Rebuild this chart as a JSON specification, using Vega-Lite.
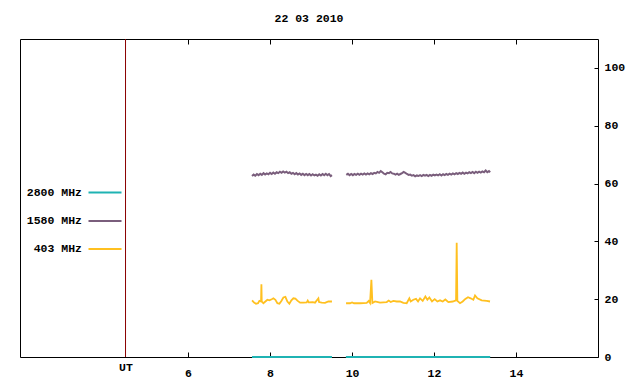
{
  "$schema": "https://vega.github.io/schema/vega-lite/v6.json",
  "width": 578,
  "height": 318,
  "autosize": {"type": "none"},
  "padding": {"left": 20, "top": 39, "right": 42, "bottom": 27},
  "background": "white",
  "title": {"text": "22 03 2010", "font": "Liberation Mono", "fontSize": 11.5, "fontWeight": "bold", "anchor": "middle", "baseline": "alphabetic", "offset": 5, "color": "black"},
  "config": {
    "view": {"stroke": "black", "strokeWidth": 1},
    "axis": {"grid": false, "domain": false, "labelFont": "Liberation Mono", "labelFontSize": 11.5, "labelFontWeight": "bold", "labelColor": "black", "tickColor": "black", "title": null},
    "legend": {"labelFont": "Liberation Mono", "labelFontSize": 11.5, "labelFontWeight": "bold", "labelColor": "black"}
  },
  "datasets": {
    "flux": [
      {"s": "2800 MHz", "g": 1, "t": 7.56, "v": 0},
      {"s": "2800 MHz", "g": 1, "t": 9.51, "v": 0},
      {"s": "2800 MHz", "g": 2, "t": 9.85, "v": 0},
      {"s": "2800 MHz", "g": 2, "t": 13.37, "v": 0},
      {"s": "1580 MHz", "g": 1, "t": 7.56, "v": 62.6},
      {"s": "1580 MHz", "g": 1, "t": 7.60, "v": 63.1},
      {"s": "1580 MHz", "g": 1, "t": 7.64, "v": 62.7},
      {"s": "1580 MHz", "g": 1, "t": 7.68, "v": 63.3},
      {"s": "1580 MHz", "g": 1, "t": 7.72, "v": 62.9},
      {"s": "1580 MHz", "g": 1, "t": 7.76, "v": 63.4},
      {"s": "1580 MHz", "g": 1, "t": 7.80, "v": 63.0},
      {"s": "1580 MHz", "g": 1, "t": 7.84, "v": 63.6},
      {"s": "1580 MHz", "g": 1, "t": 7.88, "v": 63.1},
      {"s": "1580 MHz", "g": 1, "t": 7.92, "v": 63.5},
      {"s": "1580 MHz", "g": 1, "t": 7.96, "v": 63.2},
      {"s": "1580 MHz", "g": 1, "t": 8.00, "v": 63.7},
      {"s": "1580 MHz", "g": 1, "t": 8.04, "v": 63.3},
      {"s": "1580 MHz", "g": 1, "t": 8.08, "v": 63.8},
      {"s": "1580 MHz", "g": 1, "t": 8.12, "v": 63.4},
      {"s": "1580 MHz", "g": 1, "t": 8.16, "v": 63.9},
      {"s": "1580 MHz", "g": 1, "t": 8.20, "v": 63.6},
      {"s": "1580 MHz", "g": 1, "t": 8.24, "v": 64.1},
      {"s": "1580 MHz", "g": 1, "t": 8.28, "v": 63.7},
      {"s": "1580 MHz", "g": 1, "t": 8.32, "v": 64.2},
      {"s": "1580 MHz", "g": 1, "t": 8.36, "v": 63.8},
      {"s": "1580 MHz", "g": 1, "t": 8.40, "v": 64.1},
      {"s": "1580 MHz", "g": 1, "t": 8.44, "v": 63.6},
      {"s": "1580 MHz", "g": 1, "t": 8.48, "v": 63.9},
      {"s": "1580 MHz", "g": 1, "t": 8.52, "v": 63.4},
      {"s": "1580 MHz", "g": 1, "t": 8.56, "v": 63.7},
      {"s": "1580 MHz", "g": 1, "t": 8.60, "v": 63.2},
      {"s": "1580 MHz", "g": 1, "t": 8.64, "v": 63.6},
      {"s": "1580 MHz", "g": 1, "t": 8.68, "v": 63.1},
      {"s": "1580 MHz", "g": 1, "t": 8.72, "v": 63.5},
      {"s": "1580 MHz", "g": 1, "t": 8.76, "v": 63.0},
      {"s": "1580 MHz", "g": 1, "t": 8.80, "v": 63.4},
      {"s": "1580 MHz", "g": 1, "t": 8.84, "v": 62.9},
      {"s": "1580 MHz", "g": 1, "t": 8.88, "v": 63.3},
      {"s": "1580 MHz", "g": 1, "t": 8.92, "v": 62.9},
      {"s": "1580 MHz", "g": 1, "t": 8.96, "v": 63.3},
      {"s": "1580 MHz", "g": 1, "t": 9.00, "v": 62.8},
      {"s": "1580 MHz", "g": 1, "t": 9.04, "v": 63.2},
      {"s": "1580 MHz", "g": 1, "t": 9.08, "v": 62.8},
      {"s": "1580 MHz", "g": 1, "t": 9.12, "v": 63.1},
      {"s": "1580 MHz", "g": 1, "t": 9.16, "v": 62.7},
      {"s": "1580 MHz", "g": 1, "t": 9.20, "v": 63.2},
      {"s": "1580 MHz", "g": 1, "t": 9.24, "v": 62.8},
      {"s": "1580 MHz", "g": 1, "t": 9.28, "v": 63.3},
      {"s": "1580 MHz", "g": 1, "t": 9.32, "v": 62.9},
      {"s": "1580 MHz", "g": 1, "t": 9.36, "v": 63.4},
      {"s": "1580 MHz", "g": 1, "t": 9.40, "v": 62.9},
      {"s": "1580 MHz", "g": 1, "t": 9.44, "v": 63.3},
      {"s": "1580 MHz", "g": 1, "t": 9.48, "v": 62.6},
      {"s": "1580 MHz", "g": 1, "t": 9.51, "v": 62.9},
      {"s": "1580 MHz", "g": 2, "t": 9.86, "v": 63.0},
      {"s": "1580 MHz", "g": 2, "t": 9.90, "v": 63.4},
      {"s": "1580 MHz", "g": 2, "t": 9.94, "v": 62.9},
      {"s": "1580 MHz", "g": 2, "t": 9.98, "v": 63.3},
      {"s": "1580 MHz", "g": 2, "t": 10.02, "v": 62.9},
      {"s": "1580 MHz", "g": 2, "t": 10.06, "v": 63.3},
      {"s": "1580 MHz", "g": 2, "t": 10.10, "v": 63.0},
      {"s": "1580 MHz", "g": 2, "t": 10.14, "v": 63.4},
      {"s": "1580 MHz", "g": 2, "t": 10.18, "v": 63.0},
      {"s": "1580 MHz", "g": 2, "t": 10.22, "v": 63.4},
      {"s": "1580 MHz", "g": 2, "t": 10.26, "v": 63.1},
      {"s": "1580 MHz", "g": 2, "t": 10.30, "v": 63.5},
      {"s": "1580 MHz", "g": 2, "t": 10.34, "v": 63.1},
      {"s": "1580 MHz", "g": 2, "t": 10.38, "v": 63.5},
      {"s": "1580 MHz", "g": 2, "t": 10.42, "v": 63.2},
      {"s": "1580 MHz", "g": 2, "t": 10.46, "v": 63.6},
      {"s": "1580 MHz", "g": 2, "t": 10.50, "v": 63.3},
      {"s": "1580 MHz", "g": 2, "t": 10.54, "v": 63.7},
      {"s": "1580 MHz", "g": 2, "t": 10.58, "v": 63.5},
      {"s": "1580 MHz", "g": 2, "t": 10.62, "v": 64.0},
      {"s": "1580 MHz", "g": 2, "t": 10.66, "v": 63.7},
      {"s": "1580 MHz", "g": 2, "t": 10.70, "v": 64.3},
      {"s": "1580 MHz", "g": 2, "t": 10.74, "v": 63.9},
      {"s": "1580 MHz", "g": 2, "t": 10.78, "v": 63.4},
      {"s": "1580 MHz", "g": 2, "t": 10.82, "v": 63.2},
      {"s": "1580 MHz", "g": 2, "t": 10.86, "v": 63.7},
      {"s": "1580 MHz", "g": 2, "t": 10.90, "v": 63.6},
      {"s": "1580 MHz", "g": 2, "t": 10.94, "v": 64.0},
      {"s": "1580 MHz", "g": 2, "t": 10.98, "v": 63.5},
      {"s": "1580 MHz", "g": 2, "t": 11.02, "v": 63.4},
      {"s": "1580 MHz", "g": 2, "t": 11.06, "v": 63.1},
      {"s": "1580 MHz", "g": 2, "t": 11.10, "v": 63.4},
      {"s": "1580 MHz", "g": 2, "t": 11.14, "v": 63.0},
      {"s": "1580 MHz", "g": 2, "t": 11.18, "v": 63.3},
      {"s": "1580 MHz", "g": 2, "t": 11.22, "v": 63.6},
      {"s": "1580 MHz", "g": 2, "t": 11.26, "v": 64.0},
      {"s": "1580 MHz", "g": 2, "t": 11.30, "v": 63.7},
      {"s": "1580 MHz", "g": 2, "t": 11.34, "v": 63.3},
      {"s": "1580 MHz", "g": 2, "t": 11.38, "v": 63.0},
      {"s": "1580 MHz", "g": 2, "t": 11.42, "v": 63.1},
      {"s": "1580 MHz", "g": 2, "t": 11.46, "v": 62.7},
      {"s": "1580 MHz", "g": 2, "t": 11.50, "v": 62.9},
      {"s": "1580 MHz", "g": 2, "t": 11.54, "v": 62.5},
      {"s": "1580 MHz", "g": 2, "t": 11.58, "v": 62.8},
      {"s": "1580 MHz", "g": 2, "t": 11.62, "v": 62.6},
      {"s": "1580 MHz", "g": 2, "t": 11.66, "v": 62.9},
      {"s": "1580 MHz", "g": 2, "t": 11.70, "v": 62.6},
      {"s": "1580 MHz", "g": 2, "t": 11.74, "v": 63.0},
      {"s": "1580 MHz", "g": 2, "t": 11.78, "v": 62.7},
      {"s": "1580 MHz", "g": 2, "t": 11.82, "v": 63.0},
      {"s": "1580 MHz", "g": 2, "t": 11.86, "v": 62.6},
      {"s": "1580 MHz", "g": 2, "t": 11.90, "v": 63.0},
      {"s": "1580 MHz", "g": 2, "t": 11.94, "v": 62.7},
      {"s": "1580 MHz", "g": 2, "t": 11.98, "v": 63.1},
      {"s": "1580 MHz", "g": 2, "t": 12.02, "v": 62.8},
      {"s": "1580 MHz", "g": 2, "t": 12.06, "v": 63.1},
      {"s": "1580 MHz", "g": 2, "t": 12.10, "v": 62.8},
      {"s": "1580 MHz", "g": 2, "t": 12.14, "v": 63.2},
      {"s": "1580 MHz", "g": 2, "t": 12.18, "v": 62.8},
      {"s": "1580 MHz", "g": 2, "t": 12.22, "v": 63.2},
      {"s": "1580 MHz", "g": 2, "t": 12.26, "v": 62.9},
      {"s": "1580 MHz", "g": 2, "t": 12.30, "v": 63.3},
      {"s": "1580 MHz", "g": 2, "t": 12.34, "v": 63.0},
      {"s": "1580 MHz", "g": 2, "t": 12.38, "v": 63.4},
      {"s": "1580 MHz", "g": 2, "t": 12.42, "v": 63.1},
      {"s": "1580 MHz", "g": 2, "t": 12.46, "v": 63.5},
      {"s": "1580 MHz", "g": 2, "t": 12.50, "v": 63.2},
      {"s": "1580 MHz", "g": 2, "t": 12.54, "v": 63.6},
      {"s": "1580 MHz", "g": 2, "t": 12.58, "v": 63.3},
      {"s": "1580 MHz", "g": 2, "t": 12.62, "v": 63.7},
      {"s": "1580 MHz", "g": 2, "t": 12.66, "v": 63.4},
      {"s": "1580 MHz", "g": 2, "t": 12.70, "v": 63.8},
      {"s": "1580 MHz", "g": 2, "t": 12.74, "v": 63.4},
      {"s": "1580 MHz", "g": 2, "t": 12.78, "v": 63.8},
      {"s": "1580 MHz", "g": 2, "t": 12.82, "v": 63.5},
      {"s": "1580 MHz", "g": 2, "t": 12.86, "v": 63.9},
      {"s": "1580 MHz", "g": 2, "t": 12.90, "v": 63.6},
      {"s": "1580 MHz", "g": 2, "t": 12.94, "v": 64.0},
      {"s": "1580 MHz", "g": 2, "t": 12.98, "v": 63.6},
      {"s": "1580 MHz", "g": 2, "t": 13.02, "v": 64.1},
      {"s": "1580 MHz", "g": 2, "t": 13.06, "v": 63.7},
      {"s": "1580 MHz", "g": 2, "t": 13.10, "v": 64.1},
      {"s": "1580 MHz", "g": 2, "t": 13.14, "v": 63.8},
      {"s": "1580 MHz", "g": 2, "t": 13.18, "v": 64.2},
      {"s": "1580 MHz", "g": 2, "t": 13.22, "v": 63.9},
      {"s": "1580 MHz", "g": 2, "t": 13.26, "v": 64.5},
      {"s": "1580 MHz", "g": 2, "t": 13.30, "v": 63.9},
      {"s": "1580 MHz", "g": 2, "t": 13.34, "v": 64.3},
      {"s": "1580 MHz", "g": 2, "t": 13.37, "v": 63.9},
      {"s": "403 MHz", "g": 1, "t": 7.561, "v": 19.6},
      {"s": "403 MHz", "g": 1, "t": 7.610, "v": 18.8},
      {"s": "403 MHz", "g": 1, "t": 7.659, "v": 18.4},
      {"s": "403 MHz", "g": 1, "t": 7.707, "v": 18.6},
      {"s": "403 MHz", "g": 1, "t": 7.740, "v": 19.4},
      {"s": "403 MHz", "g": 1, "t": 7.780, "v": 19.2},
      {"s": "403 MHz", "g": 1, "t": 7.789, "v": 25.2},
      {"s": "403 MHz", "g": 1, "t": 7.797, "v": 19.2},
      {"s": "403 MHz", "g": 1, "t": 7.837, "v": 18.6},
      {"s": "403 MHz", "g": 1, "t": 7.886, "v": 19.2},
      {"s": "403 MHz", "g": 1, "t": 7.935, "v": 19.8},
      {"s": "403 MHz", "g": 1, "t": 7.984, "v": 19.6},
      {"s": "403 MHz", "g": 1, "t": 8.041, "v": 20.0},
      {"s": "403 MHz", "g": 1, "t": 8.081, "v": 20.3},
      {"s": "403 MHz", "g": 1, "t": 8.130, "v": 19.8},
      {"s": "403 MHz", "g": 1, "t": 8.179, "v": 18.6},
      {"s": "403 MHz", "g": 1, "t": 8.228, "v": 18.4},
      {"s": "403 MHz", "g": 1, "t": 8.276, "v": 19.4},
      {"s": "403 MHz", "g": 1, "t": 8.325, "v": 20.6},
      {"s": "403 MHz", "g": 1, "t": 8.374, "v": 20.8},
      {"s": "403 MHz", "g": 1, "t": 8.423, "v": 19.2},
      {"s": "403 MHz", "g": 1, "t": 8.471, "v": 18.4},
      {"s": "403 MHz", "g": 1, "t": 8.520, "v": 19.6},
      {"s": "403 MHz", "g": 1, "t": 8.569, "v": 20.3},
      {"s": "403 MHz", "g": 1, "t": 8.618, "v": 20.2},
      {"s": "403 MHz", "g": 1, "t": 8.667, "v": 19.5},
      {"s": "403 MHz", "g": 1, "t": 8.732, "v": 18.8},
      {"s": "403 MHz", "g": 1, "t": 8.813, "v": 18.8},
      {"s": "403 MHz", "g": 1, "t": 8.894, "v": 18.9},
      {"s": "403 MHz", "g": 1, "t": 8.919, "v": 19.5},
      {"s": "403 MHz", "g": 1, "t": 8.943, "v": 18.9},
      {"s": "403 MHz", "g": 1, "t": 9.041, "v": 19.0},
      {"s": "403 MHz", "g": 1, "t": 9.098, "v": 18.8},
      {"s": "403 MHz", "g": 1, "t": 9.179, "v": 20.3},
      {"s": "403 MHz", "g": 1, "t": 9.195, "v": 19.0},
      {"s": "403 MHz", "g": 1, "t": 9.260, "v": 18.8},
      {"s": "403 MHz", "g": 1, "t": 9.341, "v": 18.7},
      {"s": "403 MHz", "g": 1, "t": 9.423, "v": 19.2},
      {"s": "403 MHz", "g": 1, "t": 9.510, "v": 19.2},
      {"s": "403 MHz", "g": 2, "t": 9.854, "v": 18.6},
      {"s": "403 MHz", "g": 2, "t": 9.951, "v": 18.6},
      {"s": "403 MHz", "g": 2, "t": 10.000, "v": 18.9},
      {"s": "403 MHz", "g": 2, "t": 10.049, "v": 18.6},
      {"s": "403 MHz", "g": 2, "t": 10.195, "v": 18.6},
      {"s": "403 MHz", "g": 2, "t": 10.358, "v": 18.7},
      {"s": "403 MHz", "g": 2, "t": 10.407, "v": 19.4},
      {"s": "403 MHz", "g": 2, "t": 10.439, "v": 18.7},
      {"s": "403 MHz", "g": 2, "t": 10.472, "v": 26.7},
      {"s": "403 MHz", "g": 2, "t": 10.496, "v": 18.7},
      {"s": "403 MHz", "g": 2, "t": 10.561, "v": 19.2},
      {"s": "403 MHz", "g": 2, "t": 10.683, "v": 18.8},
      {"s": "403 MHz", "g": 2, "t": 10.846, "v": 19.0},
      {"s": "403 MHz", "g": 2, "t": 10.894, "v": 19.5},
      {"s": "403 MHz", "g": 2, "t": 10.943, "v": 19.0},
      {"s": "403 MHz", "g": 2, "t": 11.008, "v": 19.4},
      {"s": "403 MHz", "g": 2, "t": 11.090, "v": 19.2},
      {"s": "403 MHz", "g": 2, "t": 11.171, "v": 19.2},
      {"s": "403 MHz", "g": 2, "t": 11.252, "v": 18.7},
      {"s": "403 MHz", "g": 2, "t": 11.333, "v": 18.6},
      {"s": "403 MHz", "g": 2, "t": 11.398, "v": 20.3},
      {"s": "403 MHz", "g": 2, "t": 11.431, "v": 19.2},
      {"s": "403 MHz", "g": 2, "t": 11.496, "v": 19.8},
      {"s": "403 MHz", "g": 2, "t": 11.561, "v": 20.1},
      {"s": "403 MHz", "g": 2, "t": 11.610, "v": 19.2},
      {"s": "403 MHz", "g": 2, "t": 11.659, "v": 20.3},
      {"s": "403 MHz", "g": 2, "t": 11.724, "v": 19.4},
      {"s": "403 MHz", "g": 2, "t": 11.789, "v": 20.9},
      {"s": "403 MHz", "g": 2, "t": 11.837, "v": 19.8},
      {"s": "403 MHz", "g": 2, "t": 11.886, "v": 20.6},
      {"s": "403 MHz", "g": 2, "t": 11.951, "v": 19.2},
      {"s": "403 MHz", "g": 2, "t": 12.016, "v": 20.0},
      {"s": "403 MHz", "g": 2, "t": 12.081, "v": 19.2},
      {"s": "403 MHz", "g": 2, "t": 12.146, "v": 19.6},
      {"s": "403 MHz", "g": 2, "t": 12.211, "v": 19.2},
      {"s": "403 MHz", "g": 2, "t": 12.276, "v": 19.9},
      {"s": "403 MHz", "g": 2, "t": 12.350, "v": 19.0},
      {"s": "403 MHz", "g": 2, "t": 12.455, "v": 19.2},
      {"s": "403 MHz", "g": 2, "t": 12.537, "v": 19.6},
      {"s": "403 MHz", "g": 2, "t": 12.553, "v": 39.5},
      {"s": "403 MHz", "g": 2, "t": 12.569, "v": 19.4},
      {"s": "403 MHz", "g": 2, "t": 12.634, "v": 18.6},
      {"s": "403 MHz", "g": 2, "t": 12.699, "v": 19.2},
      {"s": "403 MHz", "g": 2, "t": 12.764, "v": 20.1},
      {"s": "403 MHz", "g": 2, "t": 12.829, "v": 20.7},
      {"s": "403 MHz", "g": 2, "t": 12.894, "v": 20.3},
      {"s": "403 MHz", "g": 2, "t": 12.959, "v": 19.8},
      {"s": "403 MHz", "g": 2, "t": 13.000, "v": 21.3},
      {"s": "403 MHz", "g": 2, "t": 13.057, "v": 20.3},
      {"s": "403 MHz", "g": 2, "t": 13.163, "v": 19.6},
      {"s": "403 MHz", "g": 2, "t": 13.285, "v": 19.4},
      {"s": "403 MHz", "g": 2, "t": 13.366, "v": 19.2}
    ],
    "ut": [{"t": 4.474}]
  },
  "resolve": {"axis": {"x": "independent"}},
  "layer": [
    {
      "data": {"name": "ut"},
      "mark": {"type": "rule", "color": "#8b0000", "strokeWidth": 1},
      "encoding": {
        "x": {"field": "t", "type": "quantitative",
          "scale": {"domain": [1.9, 16], "nice": false, "zero": false},
          "axis": {"orient": "top", "values": [6, 8, 10, 12, 14], "labels": false, "tickSize": -5, "domain": false}}
      }
    },
    {
      "data": {"name": "flux"},
      "mark": {"type": "line", "clip": false, "interpolate": "linear"},
      "encoding": {
        "x": {"field": "t", "type": "quantitative",
          "scale": {"domain": [1.9, 16], "nice": false, "zero": false},
          "axis": {"orient": "bottom", "values": [4.474, 6, 8, 10, 12, 14], "tickSize": -5,
            "tickColor": {"condition": {"test": "datum.value < 5", "value": "transparent"}, "value": "black"},
            "labelPadding": {"condition": {"test": "datum.value < 5", "value": 9}, "value": 15},
            "labelExpr": "datum.value < 5 ? 'UT' : datum.label", "labelFlush": false}},
        "y": {"field": "v", "type": "quantitative",
          "scale": {"domain": [0, 110], "nice": false},
          "axis": {"orient": "right", "values": [0, 20, 40, 60, 80, 100], "tickSize": -4, "labelPadding": 10}},
        "color": {"field": "s", "type": "nominal",
          "scale": {"domain": ["2800 MHz", "1580 MHz", "403 MHz"], "range": ["#1fb3b3", "#7a5e7c", "#ffc020"]},
          "legend": {"orient": "none", "legendX": 67, "legendY": 135.5, "title": null, "padding": 0,
            "symbolType": "stroke", "symbolSize": 1089, "symbolStrokeWidth": 1,
            "labelAlign": "right", "labelOffset": -41, "rowPadding": 5,
            "encode": {"symbols": {"update": {"strokeWidth": {"value": 1}}}}}},
        "strokeWidth": {"field": "s", "type": "nominal",
          "scale": {"domain": ["2800 MHz", "1580 MHz", "403 MHz"], "range": [2.2, 1.8, 1.3]}, "legend": null},
        "detail": {"field": "g", "type": "nominal"},
        "order": {"field": "t", "type": "quantitative"}
      }
    }
  ]
}
